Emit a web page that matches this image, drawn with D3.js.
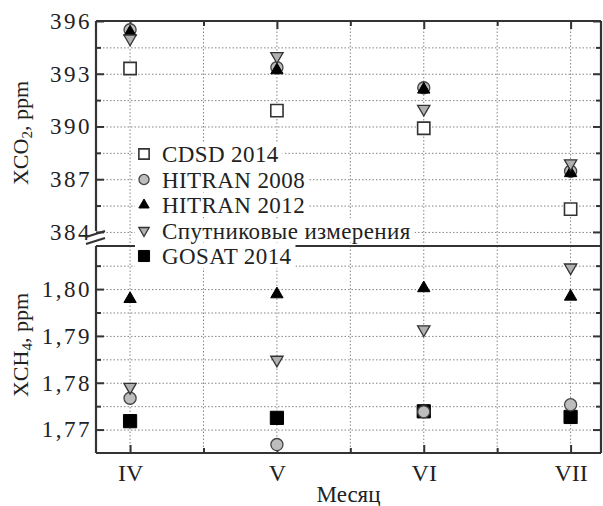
<!DOCTYPE html>
<html>
<head>
<meta charset="utf-8">
<script src="https://cdn.jsdelivr.net/npm/d3@7"></script>
<style>
  body { margin: 0; background: #fff; }
  svg { display: block; }
</style>
</head>
<body>
<svg id="chart" width="603" height="506" font-family="Liberation Serif"></svg>
<script>
// ---------------- DATA ----------------
const months = ["IV", "V", "VI", "VII"];

const co2Ticks = [384, 387, 390, 393, 396];
const co2Minor = [385.5, 388.5, 391.5, 394.5];
const ch4Ticks = [1.77, 1.78, 1.79, 1.80];
const ch4Minor = [1.775, 1.785, 1.795, 1.805];

const co2CDSD2014    = [393.3, 390.9, 389.9, 385.3];
const co2HITRAN2008  = [395.5, 393.35, 392.2, 387.45];
const co2HITRAN2012  = [395.35, 393.2, 392.1, 387.35];
const co2Satellite   = [395.0, 394.0, 391.0, 387.9];

const ch4HITRAN2008  = [1.7767, 1.7668, 1.7738, 1.7753];
const ch4HITRAN2012  = [1.7979, 1.7989, 1.8002, 1.7984];
const ch4Satellite   = [1.7791, 1.7849, 1.7914, 1.8046];
const ch4GOSAT2014   = [1.7718, 1.7725, 1.7739, 1.7727];

const legendLabels = ["CDSD 2014", "HITRAN 2008", "HITRAN 2012", "Спутниковые измерения", "GOSAT 2014"];

// ---------------- LAYOUT ----------------
const FONT = "Liberation Serif";
const TXT = "#222";
const svg = d3.select("#chart");
const L = 96, R = 601, T = 21, MID = 246, B = 453;

const x = d3.scaleLinear().domain([-0.232, 3.207]).range([L, R]);
const yCO2 = d3.scaleLinear().domain([383.2, 396]).range([MID, T]);
const yCH4 = d3.scaleLinear().domain([1.765, 1.8092]).range([B, MID]);

const xMajor = months.map((m, i) => i);
const xMinor = [0.5, 1.5, 2.5];

const gridColor = "#777";
const frameColor = "#333";

const sym = {
  cdsd:  { type: d3.symbolSquare,   size: 150, fill: "#fff",    stroke: "#333", sw: 1.6 },
  h2008: { type: d3.symbolCircle,   size: 115, fill: "#bdbdbd", stroke: "#444", sw: 1.3 },
  h2012: { type: d3.symbolTriangle, size: 66,  fill: "#000",    stroke: "#000", sw: 1 },
  sat:   { type: d3.symbolTriangle, size: 66,  fill: "#b0b0b0", stroke: "#333", sw: 1.3, rot: 180 },
  gosat: { type: d3.symbolSquare,   size: 175, fill: "#000",    stroke: "#000", sw: 1 }
};

function styleLines(a, w) {
  a.select(".domain").remove();
  a.selectAll("line").attr("stroke", frameColor).attr("stroke-width", w);
}

function panelGrid(g, y, major, minor, top, bottom) {
  g.append("g").attr("transform", `translate(${L},0)`)
    .call(d3.axisLeft(y).tickValues(major.concat(minor)).tickSize(-(R - L)).tickFormat(""))
    .call(a => a.select(".domain").remove())
    .call(a => a.selectAll("line").attr("stroke", gridColor).attr("stroke-width", 0.9).attr("stroke-dasharray", "1.5,2"));
  const xs = xMajor.concat(xMinor);
  g.append("g").selectAll("line").data(xs).join("line")
    .attr("x1", d => x(d)).attr("x2", d => x(d))
    .attr("y1", top).attr("y2", bottom)
    .attr("stroke", gridColor).attr("stroke-width", 0.9).attr("stroke-dasharray", "1.5,2");
}

function panelTicks(g, y, major, minor, fmt) {
  g.append("g").attr("transform", `translate(${L},0)`)
    .call(d3.axisLeft(y).tickValues(major).tickSize(-8).tickPadding(4).tickFormat(fmt))
    .call(a => styleLines(a, 2))
    .call(a => a.attr("font-family", FONT).attr("font-size", 23))
    .call(a => a.selectAll("text").attr("fill", TXT).attr("letter-spacing", 2.5));
  g.append("g").attr("transform", `translate(${L},0)`)
    .call(d3.axisLeft(y).tickValues(minor).tickSize(-5).tickFormat(""))
    .call(a => styleLines(a, 2));
  g.append("g").attr("transform", `translate(${R},0)`)
    .call(d3.axisRight(y).tickValues(major).tickSize(-8).tickFormat(""))
    .call(a => styleLines(a, 2));
  g.append("g").attr("transform", `translate(${R},0)`)
    .call(d3.axisRight(y).tickValues(minor).tickSize(-5).tickFormat(""))
    .call(a => styleLines(a, 2));
}

const gridG = svg.append("g");
panelGrid(gridG, yCO2, co2Ticks, co2Minor, T, MID);
panelGrid(gridG, yCH4, ch4Ticks, ch4Minor, MID, B);

const tickG = svg.append("g");
panelTicks(tickG, yCO2, co2Ticks, co2Minor, d => d3.format("d")(d));
panelTicks(tickG, yCH4, ch4Ticks, ch4Minor, d => d3.format(".2f")(d).replace(".", ","));

tickG.append("g").attr("transform", `translate(0,${T})`)
  .call(d3.axisTop(x).tickValues(xMajor).tickSize(-8).tickFormat(""))
  .call(a => styleLines(a, 2));
tickG.append("g").attr("transform", `translate(0,${T})`)
  .call(d3.axisTop(x).tickValues(xMinor).tickSize(-5).tickFormat(""))
  .call(a => styleLines(a, 2));
tickG.append("g").attr("transform", `translate(0,${B})`)
  .call(d3.axisBottom(x).tickValues(xMajor).tickSize(-8).tickPadding(11).tickFormat(i => months[i]))
  .call(a => styleLines(a, 2))
  .call(a => a.attr("font-family", FONT).attr("font-size", 24))
  .call(a => a.selectAll("text").attr("fill", TXT));
tickG.append("g").attr("transform", `translate(0,${B})`)
  .call(d3.axisBottom(x).tickValues(xMinor).tickSize(-5).tickFormat(""))
  .call(a => styleLines(a, 2));

// frame
const frame = svg.append("g").attr("stroke", frameColor).attr("stroke-width", 2.2).attr("fill", "none");
frame.append("line").attr("x1", L).attr("x2", R).attr("y1", T).attr("y2", T);
frame.append("line").attr("x1", L).attr("x2", R).attr("y1", B).attr("y2", B);
frame.append("line").attr("x1", R).attr("x2", R).attr("y1", T).attr("y2", B);
frame.append("line").attr("x1", L).attr("x2", L).attr("y1", T).attr("y2", yCO2(384) - 1);
frame.append("line").attr("x1", L).attr("x2", L).attr("y1", MID).attr("y2", B);
frame.append("line").attr("x1", L).attr("x2", R).attr("y1", MID).attr("y2", MID);
frame.append("line").attr("x1", L - 10).attr("y1", yCO2(384) + 5).attr("x2", L + 9).attr("y2", yCO2(384) - 1);
frame.append("line").attr("x1", L - 10).attr("y1", yCO2(384) + 12).attr("x2", L + 9).attr("y2", yCO2(384) + 6);

// legend
const legX = 144, legY0 = 154, legDY = 25.5;
const legendSyms = [sym.cdsd, sym.h2008, sym.h2012, sym.sat, sym.gosat];
const legG = svg.append("g").attr("font-family", FONT).attr("font-size", 23);
const legEntries = legG.selectAll("g").data(legendLabels).join("g")
  .attr("transform", (d, i) => `translate(${legX},${legY0 + i * legDY})`);
legEntries.append("rect").attr("class", "bg").attr("x", -9).attr("y", -12).attr("height", 24).attr("fill", "#fff");
legEntries.append("path")
  .attr("d", (d, i) => d3.symbol().type(legendSyms[i].type).size(legendSyms[i].size * 0.7)())
  .attr("transform", (d, i) => legendSyms[i].rot ? `rotate(${legendSyms[i].rot})` : null)
  .attr("fill", (d, i) => legendSyms[i].fill)
  .attr("stroke", (d, i) => legendSyms[i].stroke)
  .attr("stroke-width", (d, i) => legendSyms[i].sw);
legEntries.append("text").attr("x", 18).attr("y", 8).attr("fill", TXT).attr("letter-spacing", 0.4).text(d => d);
legEntries.each(function () {
  const g = d3.select(this);
  const w = g.select("text").node().getComputedTextLength();
  g.select("rect.bg").attr("width", 18 + w + 13);
});

// ---------------- DATA MARKS ----------------
const marks = svg.append("g");
function drawSeries(values, y, s) {
  marks.append("g").selectAll("path").data(values).join("path")
    .attr("d", d3.symbol().type(s.type).size(s.size)())
    .attr("transform", (d, i) => `translate(${x(i)},${y(d)})` + (s.rot ? ` rotate(${s.rot})` : ""))
    .attr("fill", s.fill).attr("stroke", s.stroke).attr("stroke-width", s.sw);
}
drawSeries(ch4GOSAT2014, yCH4, sym.gosat);
drawSeries(co2CDSD2014, yCO2, sym.cdsd);
drawSeries(co2HITRAN2008, yCO2, sym.h2008);
drawSeries(ch4HITRAN2008, yCH4, sym.h2008);
drawSeries(co2HITRAN2012, yCO2, sym.h2012);
drawSeries(ch4HITRAN2012, yCH4, sym.h2012);
drawSeries(co2Satellite, yCO2, sym.sat);
drawSeries(ch4Satellite, yCH4, sym.sat);

// ---------------- AXIS TITLES ----------------
const t1 = svg.append("text").attr("transform", "translate(28,133) rotate(-90)")
  .attr("text-anchor", "middle").attr("font-size", 22).attr("fill", TXT);
t1.append("tspan").text("XCO");
t1.append("tspan").attr("font-size", 15).attr("dy", 4).text("2");
t1.append("tspan").attr("dy", -4).text(", ppm");

const t2 = svg.append("text").attr("transform", "translate(28,345) rotate(-90)")
  .attr("text-anchor", "middle").attr("font-size", 22).attr("fill", TXT);
t2.append("tspan").text("XCH");
t2.append("tspan").attr("font-size", 15).attr("dy", 4).text("4");
t2.append("tspan").attr("dy", -4).text(", ppm");

svg.append("text").attr("x", (L + R) / 2).attr("y", 502).attr("text-anchor", "middle")
  .attr("font-size", 23).attr("fill", TXT).text("Месяц");
</script>
</body>
</html>
